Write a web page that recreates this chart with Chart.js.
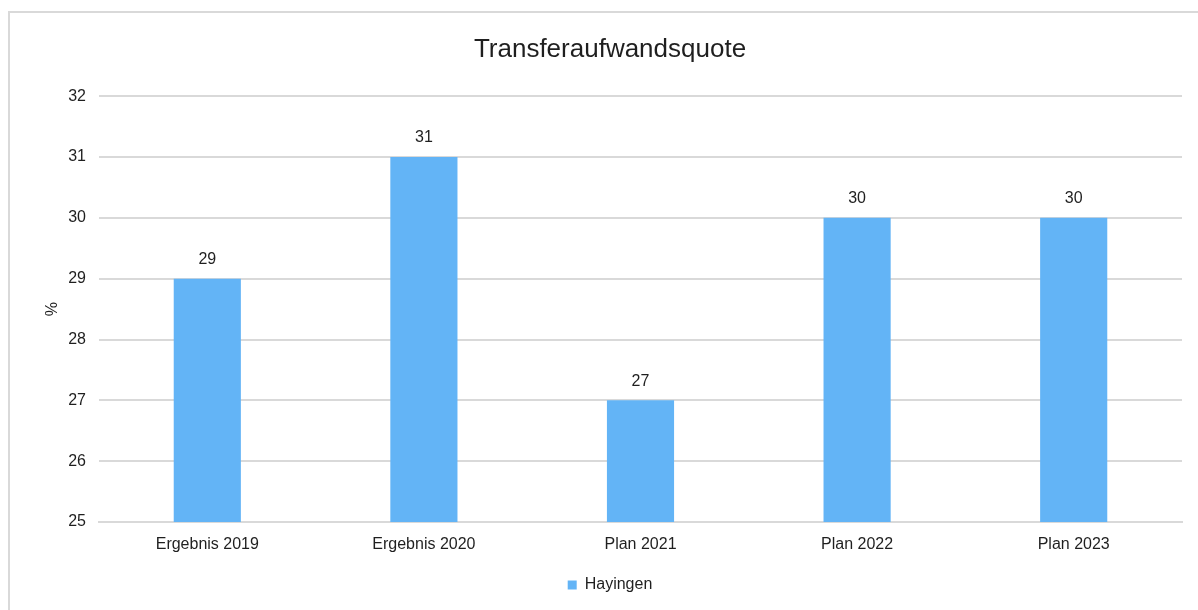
<!DOCTYPE html>
<html>
<head>
<meta charset="utf-8">
<script src="https://cdn.jsdelivr.net/npm/chart.js@4"></script>
<style>
  html, body { margin: 0; padding: 0; background: #fff; overflow: hidden; width: 1198px; height: 610px; }
  #frame { position: absolute; left: 8px; top: 11px; width: 1210px; height: 620px; border: 2px solid #d9d9d9; box-sizing: border-box; }
  #c { position: absolute; left: 0; top: 0; }
</style>
</head>
<body>
<div id="frame"></div>
<canvas id="c" width="1224" height="610"></canvas>
<script>
const categories = ["Ergebnis 2019", "Ergebnis 2020", "Plan 2021", "Plan 2022", "Plan 2023"];
const seriesName = "Hayingen";
const values = [29, 31, 27, 30, 30];
const yMin = 25, yMax = 32, yStep = 1;
const titleText = "Transferaufwandsquote";
const yAxisTitle = "%";

const FONT = "'Liberation Sans', Arial, sans-serif";
const TEXT = "#1f1f1f";
const GRID = "#d9d9d9";
const BAR = "#63b4f6";

const valueLabels = {
  id: 'valueLabels',
  afterDatasetsDraw(chart) {
    const ctx = chart.ctx;
    chart.data.datasets.forEach((ds, i) => {
      const meta = chart.getDatasetMeta(i);
      meta.data.forEach((bar, j) => {
        ctx.save();
        ctx.font = "16px " + FONT;
        ctx.fillStyle = TEXT;
        ctx.textAlign = 'center';
        ctx.textBaseline = 'middle';
        ctx.fillText(String(ds.data[j]), bar.x, bar.y - 19);
        ctx.restore();
      });
    });
  }
};

new Chart(document.getElementById('c'), {
  type: 'bar',
  data: {
    labels: categories,
    datasets: [{
      label: seriesName,
      data: values,
      backgroundColor: BAR,
      borderWidth: 0,
      barPercentage: 1.0,
      categoryPercentage: 0.31
    }]
  },
  options: {
    responsive: false,
    animation: false,
    layout: { padding: { left: 38, right: 42, top: 0, bottom: 7 } },
    plugins: {
      title: {
        display: true,
        text: titleText,
        color: TEXT,
        font: { family: FONT, size: 26, weight: 'normal' },
        padding: { top: 34, bottom: 31 }
      },
      legend: {
        display: true,
        position: 'bottom',
        labels: {
          color: TEXT,
          font: { family: FONT, size: 16 },
          boxWidth: 9,
          boxHeight: 9,
          padding: 10
        }
      },
      tooltip: { enabled: false }
    },
    scales: {
      x: {
        grid: { display: false, drawTicks: false },
        border: { display: true, color: GRID, width: 2 },
        ticks: { color: TEXT, font: { family: FONT, size: 16 }, padding: 13, maxRotation: 0 },
        afterFit(scale) { scale.height = 45; }
      },
      y: {
        min: yMin,
        max: yMax,
        grid: { color: GRID, lineWidth: 2, drawTicks: false },
        border: { display: false },
        ticks: { stepSize: yStep, color: TEXT, font: { family: FONT, size: 16 }, padding: 13 },
        title: {
          display: true,
          text: yAxisTitle,
          color: TEXT,
          font: { family: FONT, size: 16 },
          padding: { top: 5, bottom: 0 }
        },
        afterFit(scale) { scale.width = 61; }
      }
    }
  },
  plugins: [valueLabels]
});
</script>
</body>
</html>
